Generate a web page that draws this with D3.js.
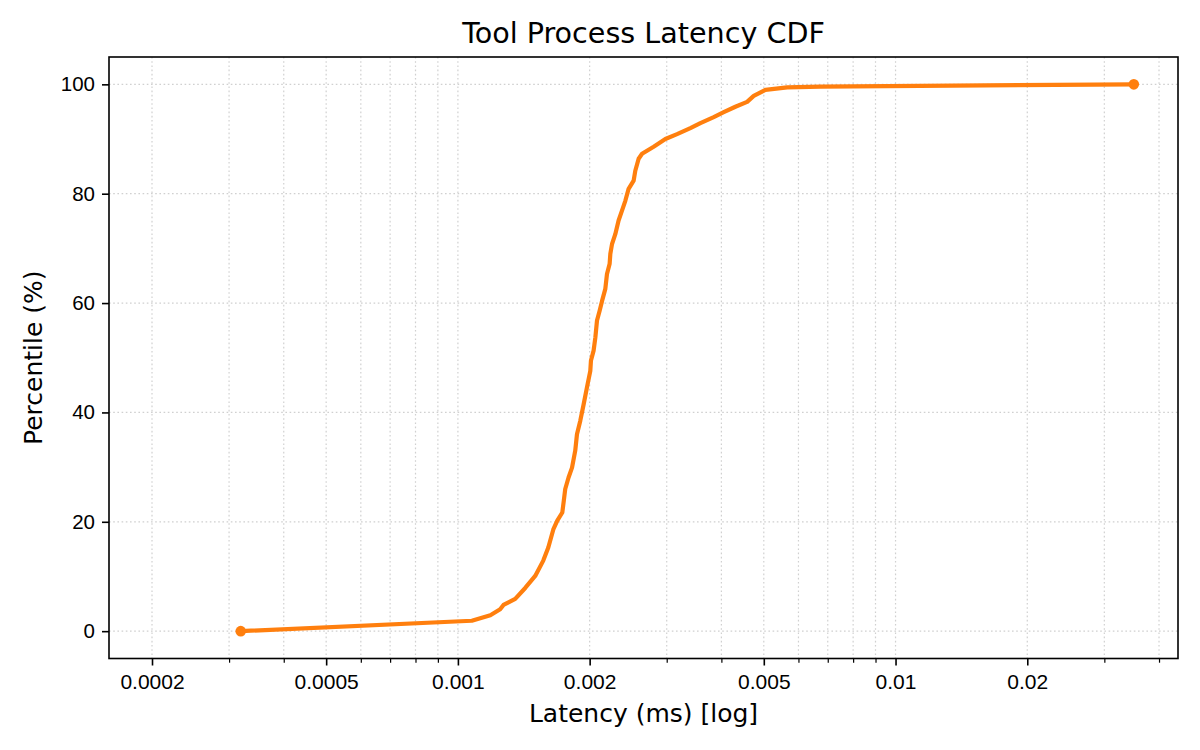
<!DOCTYPE html>
<html>
<head>
<meta charset="utf-8">
<script src="https://cdn.jsdelivr.net/npm/d3@7"></script>
<style>
    body { margin: 0; background: #fff; }
    svg { display: block; font-family: "DejaVu Sans", sans-serif; }
</style>
</head>
<body>
<div id="chart"></div>
<script>
// Latency samples (ms) and their percentile
let latency = [
    0.000319, 0.001076, 0.001186, 0.001249, 0.001271, 0.001352, 0.001425, 0.001502,
    0.001567, 0.001609, 0.001652, 0.001687, 0.001732, 0.001746, 0.001759, 0.00179,
    0.001823, 0.001854, 0.001871, 0.001904, 0.001938, 0.001972, 0.002007, 0.002014,
    0.002042, 0.002061, 0.002079, 0.002108, 0.002135, 0.002172, 0.002191, 0.002222,
    0.00223, 0.00225, 0.002289, 0.002329, 0.002371, 0.002413, 0.002455, 0.002521,
    0.002543, 0.002588, 0.002635, 0.002801, 0.002979, 0.003168, 0.003398, 0.003582,
    0.003842, 0.00405, 0.004306, 0.00458, 0.004742, 0.005043, 0.005654, 0.006739,
    0.03503
];
let percentile = [
    0, 1.9, 2.9, 4.0, 4.8, 5.9, 7.9, 10.1,
    12.9, 15.3, 18.6, 20.2, 21.7, 23.9, 26.0, 28.1,
    29.9, 33.0, 36.0, 38.5, 41.5, 44.6, 47.6, 49.5,
    51.3, 53.7, 56.8, 58.6, 60.4, 62.6, 65.3, 67.2,
    69.0, 70.8, 72.6, 75.1, 76.9, 78.7, 80.9, 82.4,
    84.2, 86.4, 87.3, 88.6, 90.0, 90.9, 92.0, 92.9,
    94.0, 94.9, 95.9, 96.8, 97.9, 99.0, 99.45, 99.6,
    100
];

// Tick values
let xTickValues = [0.0002, 0.0005, 0.001, 0.002, 0.005, 0.01, 0.02];
let xTickLabels = ["0.0002", "0.0005", "0.001", "0.002", "0.005", "0.01", "0.02"];
let yTickValues = [0, 20, 40, 60, 80, 100];

let points = latency.map((d, i) => ({ x: d, y: percentile[i] }));

// Chart size
let fullWidth = 1200, fullHeight = 750;
let margin = { top: 57, right: 22, bottom: 91.5, left: 109 };
let width = fullWidth - margin.left - margin.right;
let height = fullHeight - margin.top - margin.bottom;

let svg = d3.select("#chart")
    .append("svg")
    .attr("width", fullWidth)
    .attr("height", fullHeight);

let g = svg.append("g")
    .attr("transform", `translate(${margin.left},${margin.top})`);

// Log x axis: left limit is half the smallest sample, small pad on the right
let x = d3.scaleLog()
    .domain([d3.min(latency) / 2, 0.0442])
    .range([0, width]);

let y = d3.scaleLinear()
    .domain([-5, 105])
    .range([height, 0]);

// Minor ticks: every 1..9 step per decade inside the domain
let minorTicks = [];
[-4, -3, -2].forEach(e => {
    for (let k = 1; k <= 9; k++) {
        let v = k * Math.pow(10, e);
        if (v >= x.domain()[0] && v <= x.domain()[1] && !xTickValues.some(t => Math.abs(t - v) < v * 1e-6)) {
            minorTicks.push(v);
        }
    }
});

// Grid lines (dotted)
let grid = g.append("g").attr("class", "grid");
grid.selectAll(".vgrid")
    .data(xTickValues.concat(minorTicks))
    .enter()
    .append("line")
    .attr("x1", d => x(d))
    .attr("x2", d => x(d))
    .attr("y1", 0)
    .attr("y2", height)
    .style("stroke", "#b0b0b0")
    .style("stroke-opacity", 0.6)
    .style("stroke-width", 1.2)
    .style("stroke-dasharray", "1.6,2.6");

grid.selectAll(".hgrid")
    .data(yTickValues)
    .enter()
    .append("line")
    .attr("x1", 0)
    .attr("x2", width)
    .attr("y1", d => y(d))
    .attr("y2", d => y(d))
    .style("stroke", "#b0b0b0")
    .style("stroke-opacity", 0.6)
    .style("stroke-width", 1.2)
    .style("stroke-dasharray", "1.6,2.6");

// CDF line
let line = d3.line()
    .x(d => x(d.x))
    .y(d => y(d.y));

g.append("path")
    .datum(points)
    .attr("d", line)
    .style("fill", "none")
    .style("stroke", "#ff7f0e")
    .style("stroke-width", 4.2)
    .style("stroke-linejoin", "round");

// Markers at the two ends
g.selectAll(".endpoint")
    .data([points[0], points[points.length - 1]])
    .enter()
    .append("circle")
    .attr("class", "endpoint")
    .attr("cx", d => x(d.x))
    .attr("cy", d => y(d.y))
    .attr("r", 5.3)
    .style("fill", "#ff7f0e");

// X axis: major ticks with labels, minor ticks without
let xAxis = g.append("g")
    .attr("transform", `translate(0,${height})`)
    .call(d3.axisBottom(x)
        .tickValues(xTickValues)
        .tickFormat((d, i) => xTickLabels[i])
        .tickSize(7)
        .tickPadding(9));
xAxis.selectAll("text")
    .style("font-size", "21px")
    .style("fill", "#000");

let xMinor = g.append("g")
    .attr("transform", `translate(0,${height})`)
    .call(d3.axisBottom(x)
        .tickValues(minorTicks)
        .tickFormat("")
        .tickSize(4.2));
xMinor.selectAll("line").style("stroke-width", 1.2);

// Y axis
let yAxis = g.append("g")
    .call(d3.axisLeft(y)
        .tickValues(yTickValues)
        .tickSize(7)
        .tickPadding(7));
yAxis.selectAll("text")
    .style("font-size", "20.5px")
    .style("fill", "#000");

g.selectAll(".domain").remove();
g.selectAll(".tick line").style("stroke", "#000");
xAxis.selectAll(".tick line").style("stroke-width", 1.6);
yAxis.selectAll(".tick line").style("stroke-width", 1.6);

// Frame around the plot
g.append("rect")
    .attr("width", width)
    .attr("height", height)
    .style("fill", "none")
    .style("stroke", "#000")
    .style("stroke-width", 1.6);

// Title and axis labels
svg.append("text")
    .attr("x", margin.left + width / 2)
    .attr("y", 43)
    .attr("text-anchor", "middle")
    .style("font-size", "28.6px")
    .style("fill", "#000")
    .text("Tool Process Latency CDF");

svg.append("text")
    .attr("x", margin.left + width / 2)
    .attr("y", 722)
    .attr("text-anchor", "middle")
    .style("font-size", "25px")
    .style("fill", "#000")
    .text("Latency (ms) [log]");

svg.append("text")
    .attr("transform", `translate(42,${margin.top + height / 2}) rotate(-90)`)
    .attr("text-anchor", "middle")
    .style("font-size", "25px")
    .style("fill", "#000")
    .text("Percentile (%)");
</script>
</body>
</html>
